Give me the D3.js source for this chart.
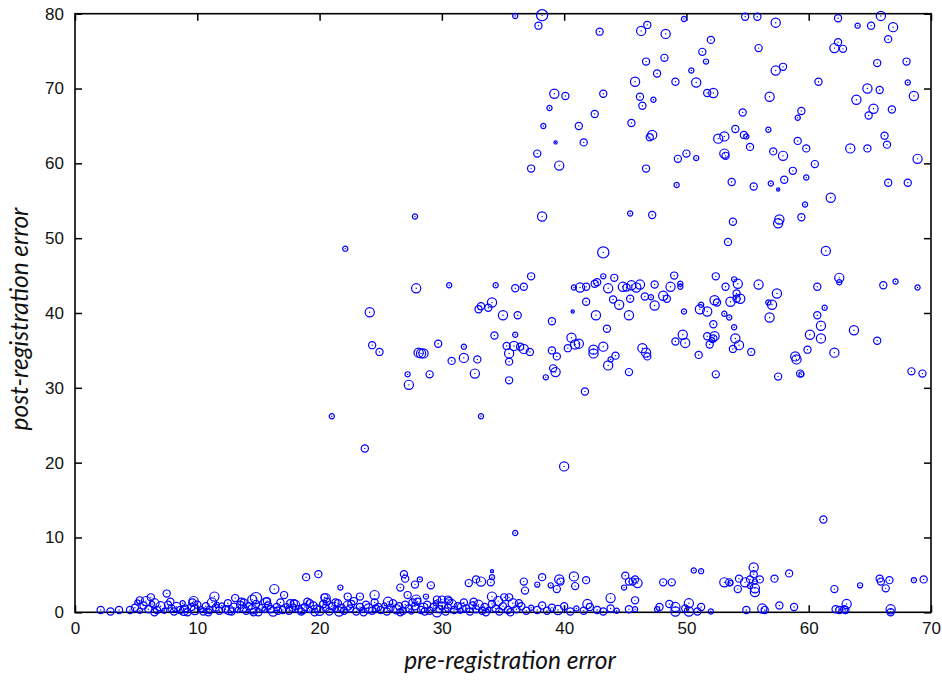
<!DOCTYPE html>
<html>
<head>
<meta charset="utf-8">
<script src="https://cdn.jsdelivr.net/npm/d3@7"></script>
<style>
  body { margin: 0; background: #fff; }
  .tick text { font-family: "Liberation Sans", Arial, sans-serif; font-size: 17px; fill: #111; }
  .title { font-family: Lato, "Open Sans", sans-serif; font-style: italic; font-size: 24.5px; fill: #111; }
</style>
</head>
<body>
<div id="chart"></div>
<script>
// each point = [pre-registration error, post-registration error, marker size 1..5]

// failures that stayed far off (post error above 50)
const highPoints = [
  [36.0,79.7,2],[38.2,79.8,5],[37.9,78.4,3],[42.9,77.6,3],[46.3,77.7,4],[46.8,78.5,3],
  [46.7,73.6,3],[45.8,70.9,4],[39.2,69.3,4],[40.1,69.0,3],[43.2,69.3,3],[46.2,68.9,3],
  [46.4,67.7,3],[38.8,67.4,2],[42.5,66.6,3],[38.3,65.0,2],[41.2,65.0,3],[45.5,65.4,3],
  [47.2,63.8,4],[47.0,63.5,3],[39.3,62.8,1],[41.6,62.8,3],[37.8,61.3,3],[39.6,59.7,4],
  [37.3,59.3,3],[46.7,59.3,3],[27.8,52.9,2],[38.2,52.9,4],[45.4,53.3,2],[47.2,53.1,3],
  [49.8,79.3,2],[54.8,79.6,3],[55.8,79.6,3],[57.3,78.8,4],[62.4,79.4,3],[65.9,79.7,4],
  [64.0,78.4,2],[65.1,78.4,3],[66.9,78.2,4],[48.3,77.3,4],[52.0,76.5,3],[66.5,76.6,3],
  [55.9,75.4,3],[62.4,76.2,3],[62.1,75.4,4],[62.8,75.3,3],[51.3,74.9,3],[51.6,73.6,2],
  [48.2,74.1,3],[65.6,73.4,3],[68.0,73.6,3],[57.3,72.4,4],[57.9,72.9,3],[50.4,72.4,2],
  [47.6,72.0,3],[49.1,70.9,3],[50.8,70.8,4],[60.8,70.9,3],[68.1,70.8,2],[64.8,70.0,4],
  [65.8,69.8,3],[51.7,69.4,3],[52.2,69.4,4],[56.8,68.9,4],[47.3,68.5,2],[63.9,68.5,4],
  [68.6,69.0,4],[54.6,66.8,3],[59.4,67.0,3],[59.1,66.1,2],[65.3,67.3,4],[64.9,66.4,3],
  [66.8,67.2,3],[56.7,64.5,2],[54.0,64.6,3],[52.6,63.3,4],[53.1,63.6,4],[54.7,63.8,3],
  [54.9,63.6,2],[55.2,62.2,3],[59.1,63.0,3],[59.8,62.0,3],[57.1,61.6,3],[57.9,61.0,4],
  [63.4,62.0,4],[64.8,62.0,3],[66.2,63.7,3],[66.4,62.5,3],[53.1,61.3,4],[53.2,61.0,3],
  [49.3,60.6,3],[50.0,61.3,3],[50.8,60.7,2],[60.5,59.9,3],[68.9,60.6,4],[58.7,59.0,3],
  [59.8,58.1,2],[58.0,57.8,3],[53.7,57.5,3],[55.5,56.9,3],[56.9,57.3,2],[57.5,56.5,1],
  [49.2,57.1,2],[66.5,57.4,3],[68.1,57.4,3],[61.8,55.4,4],[59.7,54.5,2],[53.8,52.2,3],
  [57.6,52.5,4],[57.5,52.0,4],[59.4,52.8,3]
];

// partial failures (post error 30..50)
const midPoints = [
  [53.4,49.5,3],[61.4,48.3,4],[43.2,48.1,5],[22.1,48.6,2],
  [27.9,43.3,4],[24.1,40.1,4],[30.6,43.7,2],[34.4,43.7,2],[36.0,43.3,3],[36.7,43.5,3],
  [37.3,44.9,3],[34.1,41.4,4],[33.0,40.5,3],[33.2,40.9,3],[33.8,40.7,3],[35.0,39.7,4],
  [36.2,39.7,3],[39.0,38.9,3],[40.7,40.2,1],[40.8,43.4,2],[41.3,43.4,4],[41.8,43.5,3],
  [42.5,43.9,3],[42.7,44.1,3],[43.2,44.9,2],[44.1,44.7,3],[43.6,43.3,4],[44.8,43.5,4],
  [45.1,43.4,3],[45.5,43.7,4],[45.9,43.4,4],[46.2,43.8,4],[46.6,42.2,3],[44.0,41.8,3],
  [44.5,41.1,4],[45.4,41.9,3],[41.8,41.5,3],[42.6,39.7,4],[45.3,39.7,4],[43.5,37.9,3],
  [40.6,36.7,4],[40.9,35.8,4],[41.2,35.9,4],[40.3,35.3,3],[39.0,35.0,3],[39.4,34.2,3],
  [42.4,35.1,4],[42.4,34.6,4],[43.2,35.5,4],[44.2,34.3,3],[43.8,33.8,2],[43.6,33.0,4],
  [39.1,32.6,3],[39.3,32.1,4],[38.5,31.4,2],[45.3,32.1,3],[41.7,29.5,3],[46.4,35.3,4],
  [46.7,34.7,4],[46.8,34.2,3],[24.3,35.7,3],[24.9,34.8,3],[28.1,34.7,4],[28.3,34.6,4],
  [28.5,34.6,4],[29.7,35.9,3],[31.8,35.5,2],[34.3,37.0,3],[36.0,37.1,2],[35.3,35.6,3],
  [35.9,35.6,4],[36.4,35.5,3],[36.7,35.2,4],[37.2,34.8,3],[35.5,34.6,4],[35.5,33.5,3],
  [30.8,33.6,3],[31.8,34.0,4],[32.9,33.8,3],[32.7,31.9,4],[27.2,31.8,2],[27.3,30.4,4],
  [29.0,31.8,3],[35.5,31.0,3],[62.5,44.7,4],[62.5,44.1,2],[66.1,43.7,3],[67.1,44.2,2],
  [68.9,43.4,2],[47.4,43.8,3],[49.0,45.0,3],[48.7,43.5,4],[49.5,43.9,2],[49.5,43.5,2],
  [47.1,42.1,2],[48.1,42.3,4],[48.4,41.9,3],[47.4,41.0,4],[49.8,40.2,2],[51.2,41.1,2],
  [51.1,40.5,4],[51.7,40.2,4],[52.4,44.9,3],[53.2,43.5,3],[53.9,44.5,2],[54.2,43.9,4],
  [54.1,42.6,3],[54.1,41.9,3],[54.4,41.9,4],[53.6,41.5,4],[52.3,41.7,4],[52.5,41.4,3],
  [55.9,43.8,4],[57.4,42.6,4],[56.7,41.4,2],[57.0,41.1,4],[53.1,39.9,2],[53.5,39.4,2],
  [56.8,39.4,4],[60.7,43.5,3],[61.3,40.7,2],[60.7,39.7,3],[61.0,38.3,4],[60.1,37.1,4],
  [61.0,36.6,4],[59.9,35.1,3],[62.1,34.7,4],[63.7,37.7,4],[65.6,36.3,3],[52.2,38.5,3],
  [53.9,38.1,2],[49.7,37.1,4],[49.1,36.2,3],[49.9,36.0,4],[51.7,36.9,3],[52.3,36.9,4],
  [52.2,36.6,3],[52.1,36.4,2],[54.0,36.6,4],[51.9,35.8,3],[54.3,35.7,4],[53.8,35.2,3],
  [55.3,34.8,3],[51.0,34.4,3],[58.9,34.2,4],[59.0,33.8,4],[52.4,31.8,3],[57.5,31.5,3],
  [59.3,31.9,3],[59.4,31.8,2],[68.4,32.2,3],[69.3,31.9,3]
];

// isolated cases between the two groups
const strayPoints = [
  [21.0,26.2,2],[23.7,21.9,3],[33.2,26.2,2],[40.0,19.5,4],[36.0,10.6,2],[61.2,12.4,3]
];

// converged, with some residual error (post error about 1.5..6)
const lowPoints = [
  [5.3,1.6,3],[5.8,1.5,4],[6.2,2.0,3],[6.5,1.2,4],[7.5,2.5,3],[9.7,1.5,4],[11.4,2.1,4],
  [13.1,1.9,3],[14.5,1.7,4],[14.8,1.9,5],[16.3,3.1,4],[17.1,2.3,3],[18.9,4.7,3],[19.9,5.1,3],
  [21.7,3.3,2],[23.3,2.1,3],[24.5,2.3,4],[26.9,5.1,3],[27.0,4.5,3],[26.6,3.3,3],[27.8,3.7,3],
  [28.2,4.4,2],[29.1,3.6,3],[27.2,2.3,3],[27.9,1.7,4],[28.7,2.1,2],[29.6,1.7,3],[30.0,1.7,3],
  [30.5,1.7,3],[32.2,3.9,3],[32.8,4.4,3],[33.2,4.1,4],[34.0,4.0,3],[34.1,4.7,2],[34.1,5.5,1],
  [34.1,2.1,4],[35.1,2.0,3],[35.5,2.0,3],[36.7,4.1,3],[36.8,2.9,3],[37.8,3.7,2],[38.2,4.7,3],
  [38.9,3.6,2],[39.4,3.1,3],[39.6,4.4,4],[39.7,4.1,3],[40.8,4.8,4],[40.9,3.5,3],[41.8,4.3,3],
  [43.8,1.9,4],[45.0,4.9,3],[44.9,3.3,2],[45.3,4.1,3],[45.6,4.1,3],[45.8,4.4,3],[46.0,3.9,4],
  [45.8,1.6,3],[48.1,4.0,3],[48.8,4.0,3],[50.6,5.6,2],[51.2,5.5,2],[53.1,4.0,4],[53.5,4.0,3],
  [53.6,3.9,2],[54.3,4.5,3],[54.2,3.1,3],[54.8,4.0,4],[55.2,4.4,3],[55.5,6.0,4],[55.5,5.1,3],
  [55.6,4.1,2],[55.6,3.2,4],[55.6,2.7,4],[55.2,3.5,2],[56.0,4.4,3],[57.2,4.5,3],[58.4,5.2,3],
  [62.1,3.1,3],[64.2,3.6,2],[65.8,4.5,3],[65.9,4.1,3],[66.6,4.3,3],[66.3,3.2,3],[68.6,4.3,2],
  [69.4,4.4,3],[20.5,1.9,4],[13.8,1.3,3],[15.7,1.5,3],[17.9,1.2,3],[19.2,1.2,3],[21.3,1.3,3],
  [22.3,2.1,3],[20.4,2.0,3],[36.3,1.2,3],[41.9,1.1,4],[48.6,1.1,3],[50.2,1.2,4],[63.1,1.1,4]
];

// converged (post error near zero)
const bandPoints = [
  [2.1,0.3,3],[2.9,0.1,3],[3.6,0.3,3],[4.5,0.3,3],
  [4.9,0.6,3],[5.3,0.2,2],[5.6,0.9,3],[6.0,0.4,3],[6.3,1.1,2],[6.7,0.3,3],[7.0,0.8,4],
  [7.3,0.2,2],[7.6,1.0,3],[7.9,0.5,3],[8.1,0.1,3],[8.3,0.7,4],[8.6,0.3,3],[8.8,1.2,2],
  [9.0,0.5,3],[9.2,0.0,3],[9.5,0.7,3],[9.8,0.3,4],[10.0,1.0,3],[10.3,0.4,2],[10.5,0.1,3],
  [10.7,0.8,3],[11.0,0.3,3],[11.2,1.3,4],[11.5,0.6,3],[11.8,0.2,3],[12.0,0.9,2],[12.3,0.4,3],
  [12.5,1.2,3],[12.8,0.1,3],[13.0,0.6,4],[13.3,0.3,2],[13.5,1.0,3],[13.8,0.5,3],[14.0,0.2,3],
  [14.2,0.8,3],[14.5,0.4,4],[14.8,1.1,3],[15.0,0.0,3],[15.3,0.6,3],[15.5,0.3,2],[15.8,0.9,3],
  [16.0,0.4,3],[16.2,0.1,4],[16.5,0.7,3],[16.8,1.3,3],[17.0,0.3,3],[17.3,0.8,2],[17.5,0.2,3],
  [17.8,0.6,3],[18.0,1.0,4],[18.3,0.4,3],[18.5,0.1,3],[18.8,0.7,3],[19.0,1.4,3],[19.2,0.3,2],
  [19.5,0.9,3],[19.8,0.5,3],[20.0,0.2,4],[20.3,1.1,3],[20.5,0.6,3],[20.8,0.1,3],[21.0,0.8,3],
  [21.3,0.4,2],[21.5,1.2,3],[21.8,0.6,3],[22.0,0.2,3],[22.3,0.9,4],[22.5,0.5,3],[22.8,1.5,3],
  [23.0,0.1,3],[23.3,0.7,3],[23.5,0.3,2],[23.8,1.0,3],[24.0,0.5,4],[24.3,0.2,3],[24.5,1.3,3],
  [24.8,0.7,3],[25.0,0.3,3],[25.3,0.9,2],[25.5,0.1,3],[25.8,0.6,3],[26.0,1.2,3],[26.3,0.4,4],
  [26.5,0.8,3],[26.8,0.2,3],[27.0,1.0,3],[27.3,0.5,3],[27.5,0.1,2],[27.8,0.8,3],[28.0,1.4,3],
  [28.3,0.3,3],[28.5,0.6,4],[28.8,1.0,3],[29.0,0.2,3],[29.3,0.7,3],[29.5,1.2,2],[29.8,0.4,3],
  [30.0,0.9,3],[30.3,0.1,3],[30.5,0.6,3],[30.8,1.1,4],[31.0,0.3,3],[31.3,0.8,3],[31.5,0.2,2],
  [31.8,1.3,3],[32.0,0.5,3],[32.3,0.1,3],[32.5,0.9,3],[32.8,0.4,3],[33.0,1.0,4],[33.3,0.2,3],
  [33.5,0.7,3],[33.8,0.3,2],[34.1,1.1,3],[34.4,0.5,3],[34.7,0.1,3],[35.0,0.8,3],[35.4,0.3,3],
  [35.8,1.2,4],[36.1,0.4,3],[36.5,0.8,3],[36.9,0.2,3],[37.3,0.6,2],[37.8,0.3,3],[38.2,0.9,3],
  [38.6,0.2,3],[39.0,0.6,3],[39.5,0.3,4],[40.0,0.8,3],[40.5,0.1,3],[41.0,0.5,2],[41.6,0.2,3],
  [42.1,0.7,3],[42.7,0.3,3],[43.2,0.1,3],[43.8,0.5,3],[44.3,0.2,2],
  [5.1,1.3,2],[6.5,0.0,3],[7.8,1.4,3],[8.9,0.2,4],[9.6,1.3,3],[10.9,0.0,3],[11.6,1.0,2],
  [12.6,0.3,4],[13.6,1.4,3],[14.6,0.0,3],[15.6,1.3,4],[16.6,0.2,3],[17.6,1.2,3],[18.6,0.4,4],
  [19.6,0.0,3],[20.6,1.4,3],[21.6,0.1,4],[22.6,1.1,3],[23.6,0.0,3],[24.6,0.5,3],[25.6,1.4,4],
  [26.6,0.0,3],[27.6,1.3,3],[28.6,0.1,3],[29.6,0.0,4],[30.6,1.5,3],[31.6,0.6,4],[32.6,1.4,3],
  [33.6,0.0,3],[34.6,1.5,4],[35.6,0.0,3],
  [45.3,0.4,3],[45.8,0.4,2],[47.6,0.4,2],[47.8,0.7,3],[49.1,0.7,4],[49.1,0.1,4],[49.9,0.5,3],
  [50.2,0.1,4],[50.9,0.1,3],[51.2,0.7,3],[52.0,0.1,2],[54.9,0.3,3],[56.2,0.5,4],[56.4,0.3,3],
  [57.6,0.9,3],[58.8,0.7,3],[62.2,0.4,3],[62.5,0.3,3],[62.9,0.4,3],[63.0,0.3,3],[66.7,0.4,4],
  [66.7,0.0,3]
];

const xTicks = [0, 10, 20, 30, 40, 50, 60, 70];
const yTicks = [0, 10, 20, 30, 40, 50, 60, 70, 80];

const W = 942, H = 680;
const margin = {top: 13.7, right: 11, bottom: 67.7, left: 75};
const width = W - margin.left - margin.right;
const height = H - margin.top - margin.bottom;

const svg = d3.select("#chart")
  .append("svg")
  .attr("width", W)
  .attr("height", H)
  .append("g")
  .attr("transform", `translate(${margin.left},${margin.top})`);

const x = d3.scaleLinear().domain([0, 70]).range([0, width]);
const y = d3.scaleLinear().domain([0, 80]).range([height, 0]);
const r = d3.scaleLinear().domain([1, 5]).range([1.6, 5.6]);

// axes, ticks pointing inward on all four sides
const tick = 7;
svg.append("g")
  .attr("transform", `translate(0,${height})`)
  .call(d3.axisBottom(x).tickValues(xTicks).tickSize(-tick).tickPadding(10));
svg.append("g")
  .call(d3.axisTop(x).tickValues(xTicks).tickSize(-tick).tickFormat(""));
svg.append("g")
  .call(d3.axisLeft(y).tickValues(yTicks).tickSize(-tick).tickPadding(11));
svg.append("g")
  .attr("transform", `translate(${width},0)`)
  .call(d3.axisRight(y).tickValues(yTicks).tickSize(-tick).tickFormat(""));
svg.selectAll(".domain").remove();
svg.selectAll(".tick line").attr("stroke", "#000").attr("stroke-width", 1.5);

svg.append("rect")
  .attr("width", width)
  .attr("height", height)
  .attr("fill", "none")
  .attr("stroke", "#000")
  .attr("stroke-width", 1.6);

// points
const allPoints = bandPoints.concat(lowPoints, strayPoints, midPoints, highPoints);
const pts = svg.append("g")
  .selectAll("g")
  .data(allPoints)
  .join("g")
  .attr("transform", d => `translate(${x(d[0])},${y(d[1])})`);
pts.append("circle")
  .attr("r", d => r(d[2]))
  .attr("fill", "none")
  .attr("stroke", "#0000ff")
  .attr("stroke-width", 1.2);
pts.append("circle")
  .attr("r", 0.7)
  .attr("fill", "#0000ff");

// axis titles
svg.append("text")
  .attr("class", "title")
  .attr("x", x(35) + 7)
  .attr("y", height + 57)
  .attr("text-anchor", "middle")
  .text("pre-registration error");
svg.append("text")
  .attr("class", "title")
  .attr("transform", `translate(${-47},${height / 2 + 6}) rotate(-90)`)
  .attr("text-anchor", "middle")
  .text("post-registration error");
</script>
</body>
</html>
